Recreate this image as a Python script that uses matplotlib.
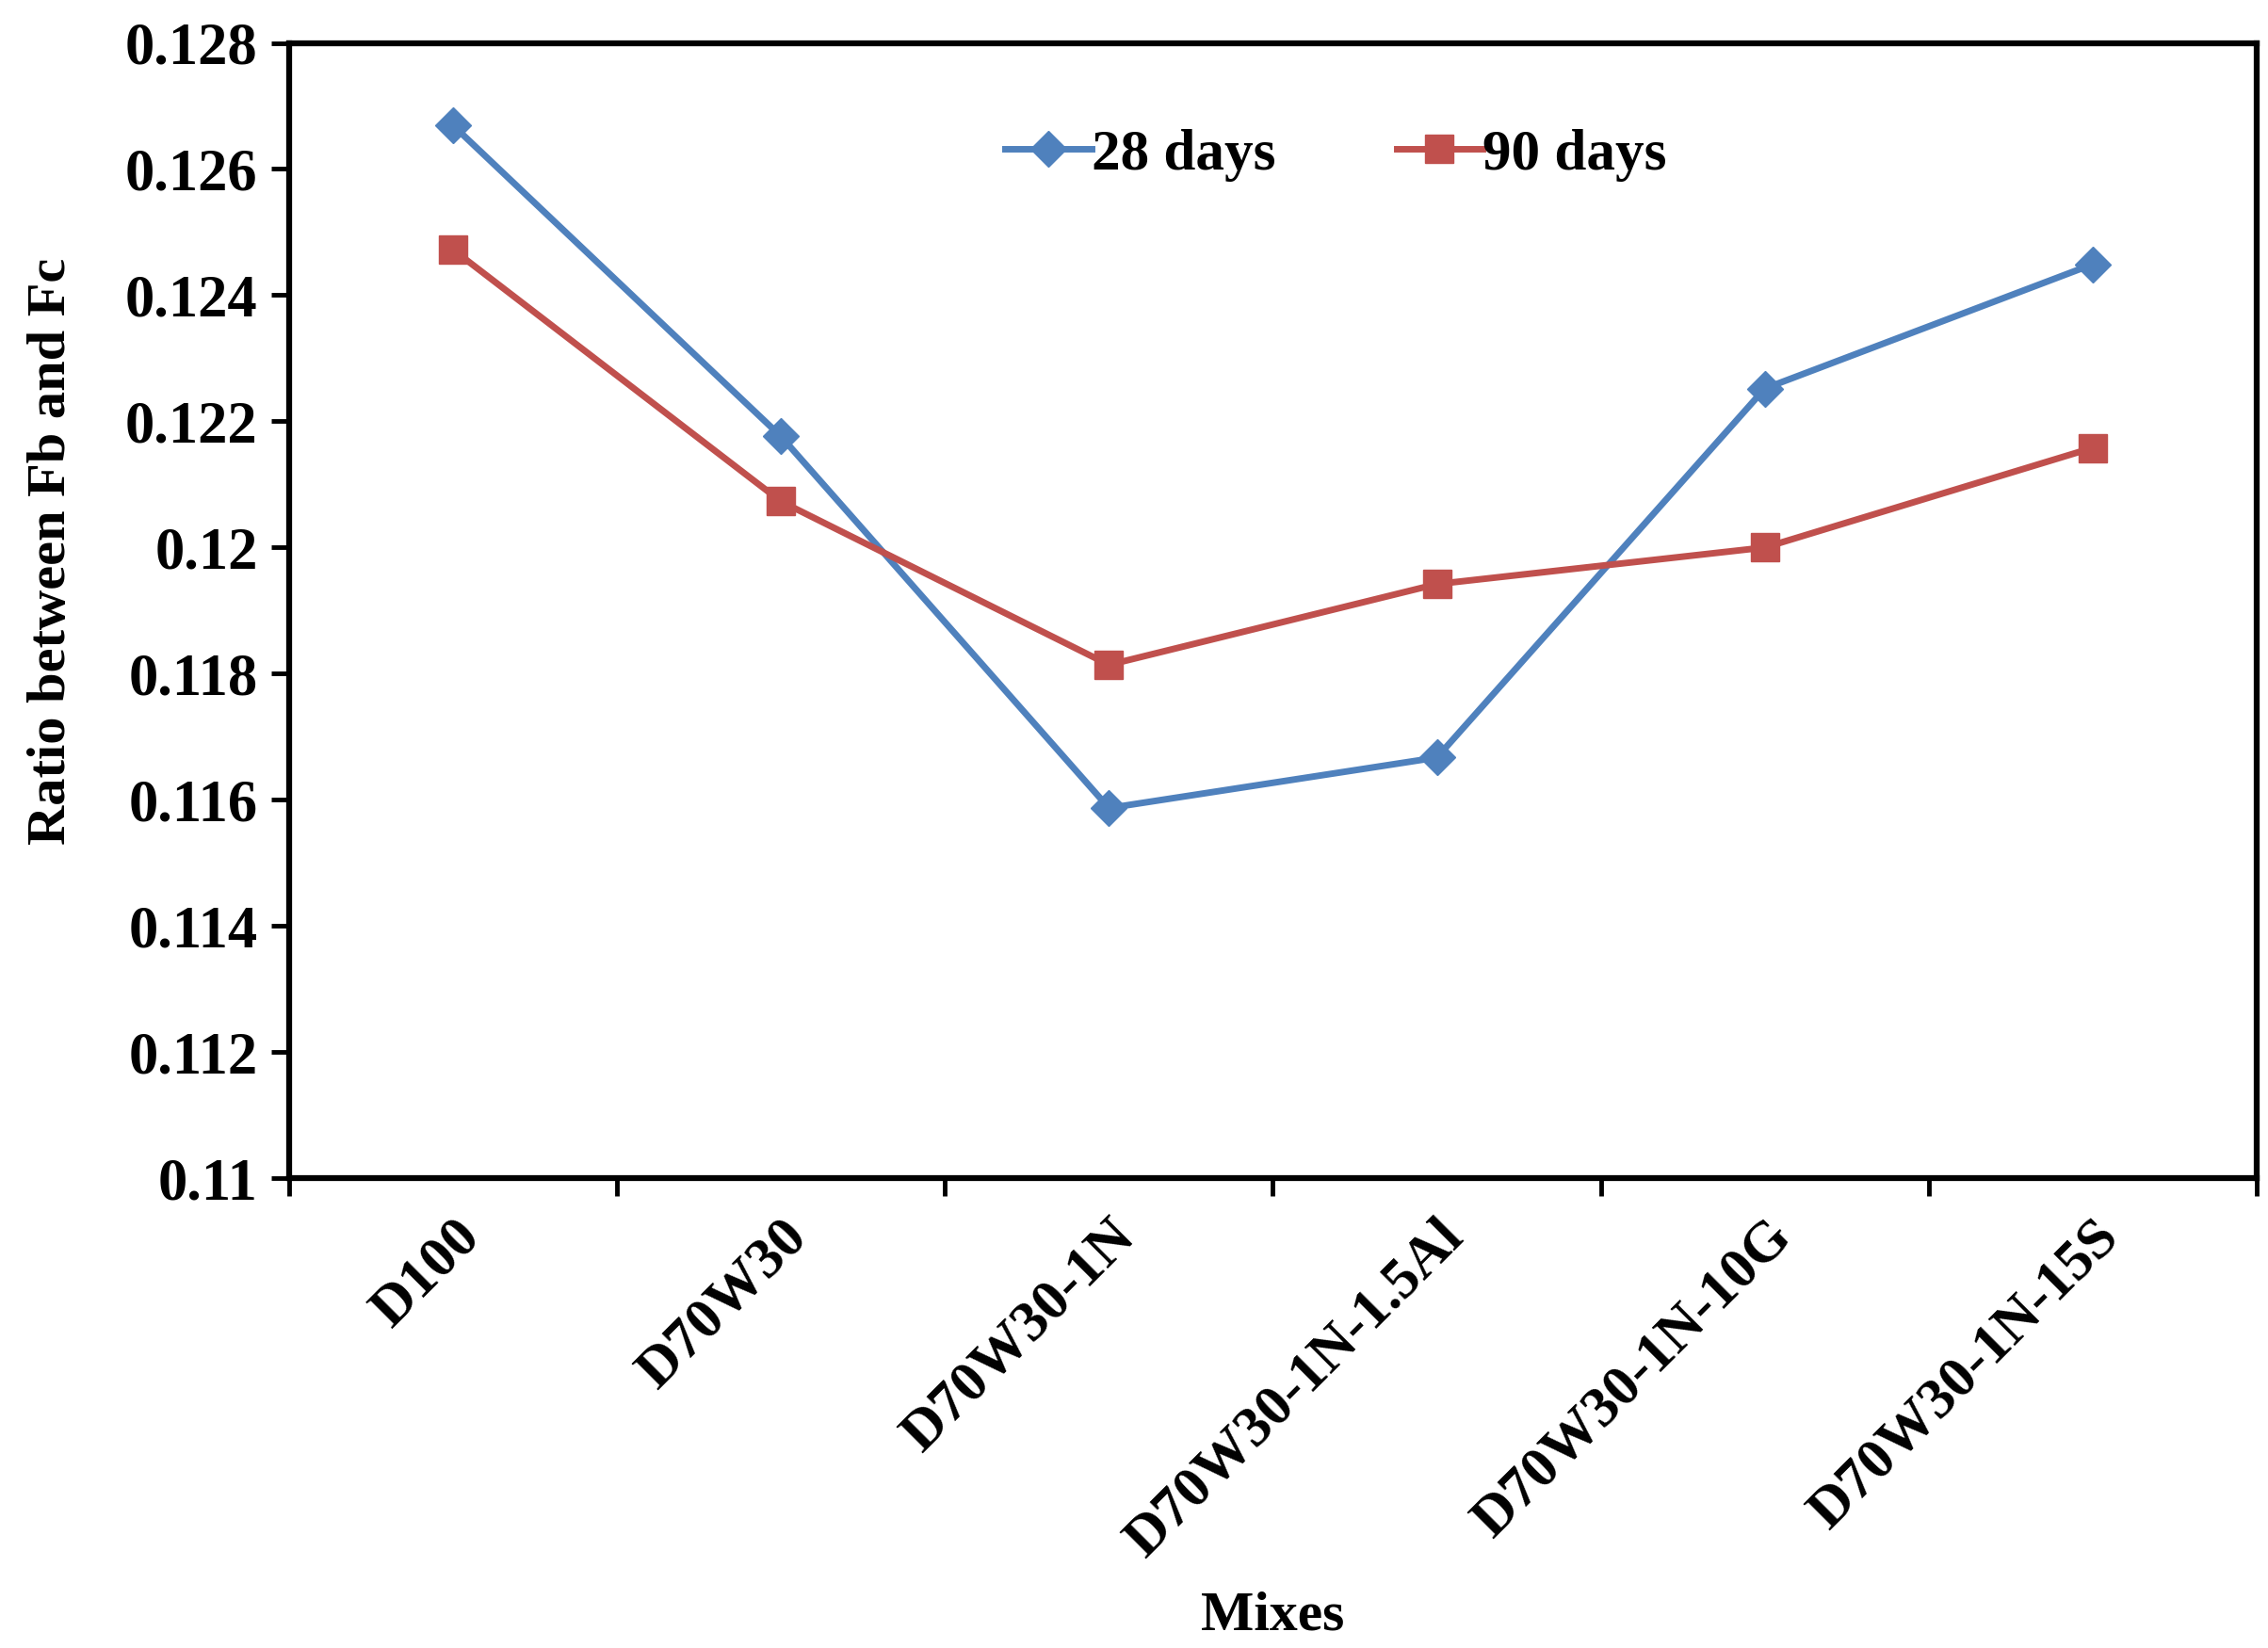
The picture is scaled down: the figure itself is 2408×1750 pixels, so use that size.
import matplotlib.pyplot as plt
import numpy as np

mixes = ['D100', 'D70W30', 'D70W30-1N', 'D70W30-1N-1.5Al', 'D70W30-1N-10G', 'D70W30-1N-15S']
days28 = [0.12669, 0.12176, 0.11587, 0.11667, 0.12252, 0.12449]
days90 = [0.12472, 0.12073, 0.11814, 0.11942, 0.12000, 0.12158]
yticks = [0.11, 0.112, 0.114, 0.116, 0.118, 0.12, 0.122, 0.124, 0.126, 0.128]
ytick_labels = ['0.11', '0.112', '0.114', '0.116', '0.118', '0.12', '0.122', '0.124', '0.126', '0.128']

plt.rcParams['font.family'] = ['Liberation Serif', 'DejaVu Serif']
plt.rcParams['font.weight'] = 'bold'

fig = plt.figure(figsize=(24.08, 17.5), dpi=100)
ax = fig.add_axes([0.1275, 0.285, 0.8675, 0.689])

x = np.arange(len(mixes))
ax.plot(x, days28, color='#4F81BD', lw=5, marker='D', markersize=19, label='28 days')
ax.plot(x, days90, color='#C0504D', lw=5, marker='s', markersize=22, label='90 days')

ax.set_xlim(-0.5, len(mixes) - 0.5)
ax.set_ylim(0.11, 0.128)
ax.set_yticks(yticks)
ax.set_yticklabels(ytick_labels, fontsize=45, fontweight='bold')

# ticks sit between categories, labels under the category centres
ax.set_xticks(np.arange(len(mixes) + 1) - 0.5)
ax.set_xticklabels([])
ax.set_xticks(x, minor=True)
ax.set_xticklabels(mixes, minor=True, rotation=45, ha='right', rotation_mode='anchor',
                   fontsize=44, fontweight='bold')
ax.tick_params(axis='x', which='minor', length=0, pad=24)
ax.tick_params(axis='x', which='major', length=14, width=3.5, direction='out')
ax.tick_params(axis='y', length=14, width=3.5, direction='out', pad=10)

for s in ax.spines.values():
    s.set_linewidth(4.5)

ax.set_ylabel('Ratio between Fb and Fc', fontsize=42, fontweight='bold')
ax.yaxis.set_label_coords(-0.108, 0.552)
ax.set_xlabel('Mixes', fontsize=43, fontweight='bold', labelpad=18)

ax.legend(loc='upper center', bbox_to_anchor=(0.532, 0.97), ncol=2, frameon=False,
          handlelength=1.5, handletextpad=0.0, columnspacing=2.1,
          prop={'weight': 'bold', 'size': 44})

fig.savefig('out.png', dpi=100)
